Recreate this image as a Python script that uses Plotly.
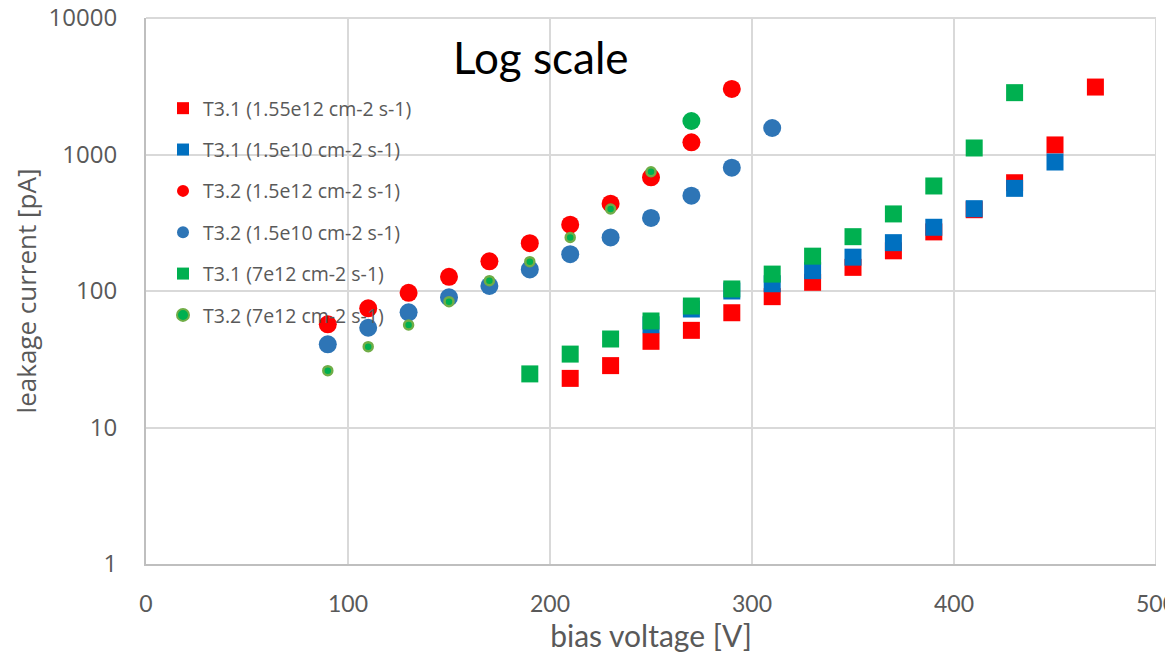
import plotly.graph_objects as go

# ---------------- data ----------------
v_sq_red = [210, 230, 250, 270, 290, 310, 330, 350, 370, 390, 410, 430, 450, 470]
i_sq_red = [22.9, 28.4, 42.8, 51.5, 69.3, 90.9, 115.8, 149, 197, 271, 394, 621, 1175, 3120]

v_sq_blue = [250, 270, 290, 310, 330, 350, 370, 390, 410, 430, 450]
i_sq_blue = [56.6, 73.8, 100, 113, 141, 177, 226, 293, 401, 565, 881]

v_ci_red = [90, 110, 130, 150, 170, 190, 210, 230, 250, 270, 290]
i_ci_red = [57, 74.7, 97, 127, 165, 224, 306, 436, 681, 1228, 3020]

v_ci_blue = [90, 110, 130, 150, 170, 190, 210, 230, 250, 270, 290, 310]
i_ci_blue = [40.7, 53.8, 69.8, 89.9, 109, 144, 186, 247, 343, 499, 800, 1564]

v_sq_green = [190, 210, 230, 250, 270, 290, 310, 330, 350, 370, 390, 410, 430]
i_sq_green = [24.7, 34.5, 44.5, 60.3, 77.6, 103.5, 133, 180, 250, 367, 588, 1116, 2838]

v_ci_green = [90, 110, 130, 150, 170, 190, 210, 230, 250, 270]
i_ci_green = [26.1, 39.1, 56.4, 83.5, 119, 164, 247, 399, 748, 1760]

names = [
    "T3.1 (1.55e12 cm-2 s-1)",
    "T3.1 (1.5e10 cm-2 s-1)",
    "T3.2 (1.5e12 cm-2 s-1)",
    "T3.2 (1.5e10 cm-2 s-1)",
    "T3.1 (7e12 cm-2 s-1)",
    "T3.2 (7e12 cm-2 s-1)",
]

x_ticks = [0, 100, 200, 300, 400, 500]
y_ticks = [1, 10, 100, 1000, 10000]
y_ticktext = ["1", "10", "100", "1000", "10000"]

RED = "#FF0000"
BLUE_SQ = "#0070C0"
BLUE_CI = "#2E75B6"
GREEN = "#00B050"
OLIVE = "#70AD47"

fig = go.Figure()

def add(x, y, name, symbol, color, size, group):
    fig.add_trace(go.Scatter(
        x=x, y=y, mode="markers", name=name, legendgroup=group,
        marker=dict(symbol=symbol, color=color, size=size, opacity=1,
                    line=dict(color=color, width=0)),
    ))

add(v_sq_red, i_sq_red, names[0], "square", RED, 17, "a")
add(v_sq_blue, i_sq_blue, names[1], "square", BLUE_SQ, 17, "b")
add(v_ci_red, i_ci_red, names[2], "circle", RED, 18, "c")
add(v_ci_blue, i_ci_blue, names[3], "circle", BLUE_CI, 18, "d")
add(v_sq_green, i_sq_green, names[4], "square", GREEN, 17, "e")
n = len(v_ci_green)
fig.add_trace(go.Scatter(
    x=v_ci_green, y=i_ci_green, mode="markers", name=names[5], legendgroup="f",
    marker=dict(symbol="circle", color=GREEN, opacity=1,
                size=[9] * (n - 1) + [18],
                line=dict(color=[OLIVE] * (n - 1) + [GREEN], width=[2.5] * (n - 1) + [0])),
))

GRID = "#D9D9D9"
TXT = "#595959"

fig.update_layout(
    width=1165, height=653,
    margin=dict(l=146, r=9, t=18, b=89),
    paper_bgcolor="white", plot_bgcolor="white",
    font=dict(family="Open Sans", color=TXT),
    showlegend=True,
    legend=dict(
        x=(163 - 146) / 1010, y=(564 - 89) / 546, xanchor="left", yanchor="top",
        bgcolor="rgba(0,0,0,0)", font=dict(size=19.5, color=TXT, family="Open Sans"),
        tracegroupgap=13, itemsizing="constant", itemwidth=30,
    ),
    xaxis=dict(
        range=[0, 500], tickvals=x_ticks, showgrid=True, gridcolor=GRID, gridwidth=2,
        showline=True, linecolor="#BFBFBF", linewidth=2, zeroline=False, automargin=False,
        tickfont=dict(family="Lato", size=23, color=TXT), ticklabelstandoff=18,
        ticklabeloverflow="allow",
        title=dict(text="bias voltage [V]", font=dict(family="Lato", size=30, color=TXT), standoff=0),
    ),
    yaxis=dict(
        type="log", range=[0, 4], tickvals=y_ticks, ticktext=y_ticktext,
        showgrid=True, gridcolor=GRID, gridwidth=2,
        showline=True, linecolor="#BFBFBF", linewidth=2, zeroline=False, automargin=False,
        tickfont=dict(family="Open Sans", size=24, color=TXT), ticklabelstandoff=22,
        ticklabeloverflow="allow",
        title=dict(text="leakage current [pA]", font=dict(family="Open Sans", size=26, color=TXT), standoff=4),
    ),
    shapes=[
        dict(type="line", xref="x", yref="paper", x0=500, x1=500, y0=0, y1=1,
             line=dict(color=GRID, width=2), layer="below"),
        dict(type="line", xref="paper", yref="paper", x0=0, x1=1, y0=1, y1=1,
             line=dict(color=GRID, width=2), layer="below"),
    ],
    annotations=[dict(
        text="Log scale", xref="paper", yref="paper",
        x=(541 - 146) / 1010, y=(564 - 57) / 546, showarrow=False,
        font=dict(family="Lato", size=44, color="black"),
        xanchor="center", yanchor="middle",
    )],
)

fig.write_html("out.html")
